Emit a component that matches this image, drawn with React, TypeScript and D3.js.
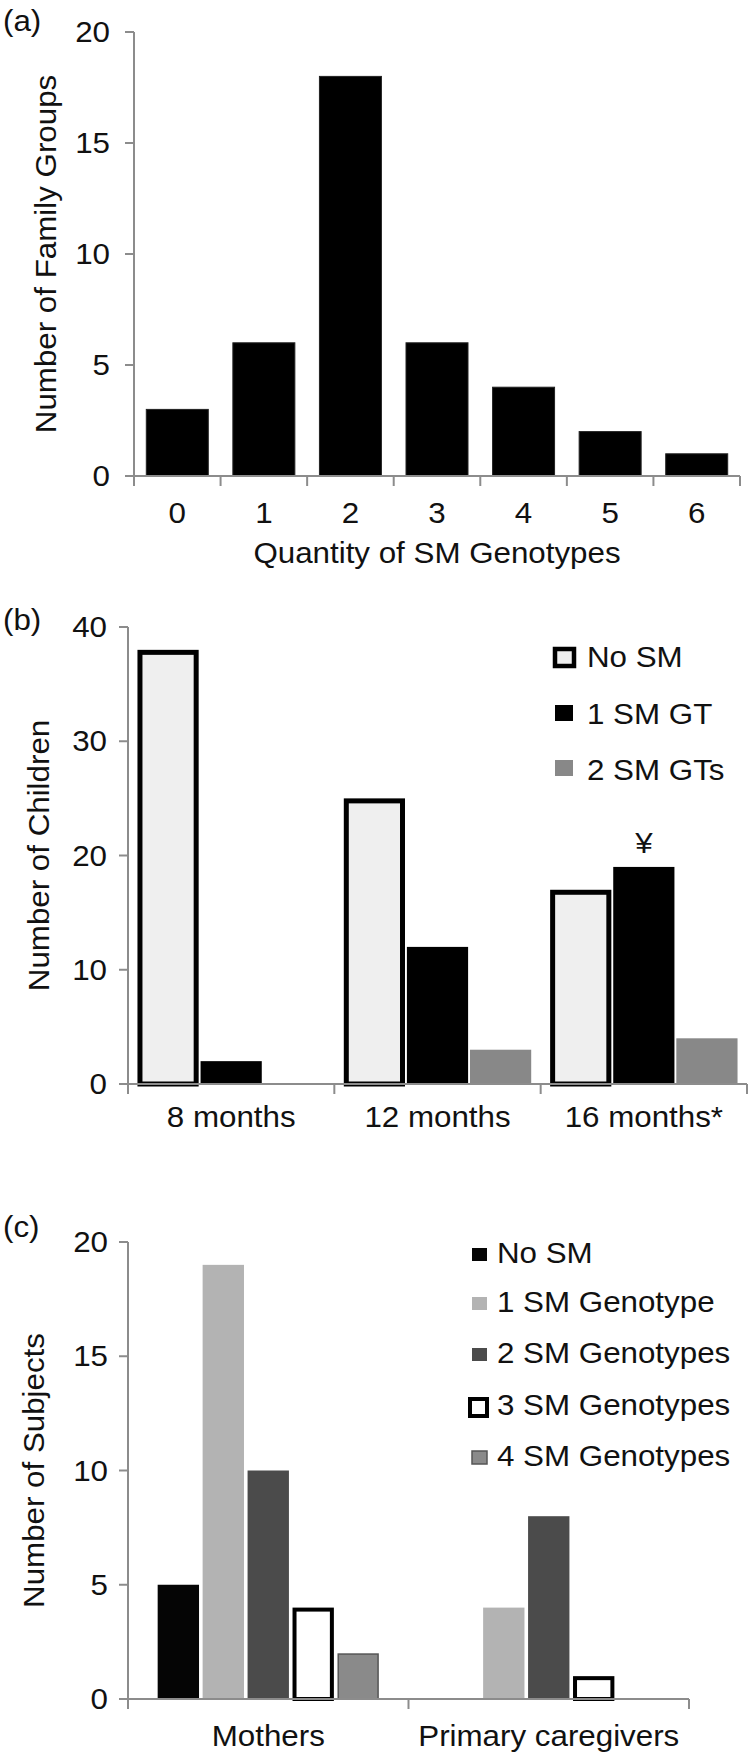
import React from 'react';
import * as d3 from 'd3';

// Panel (a)
const catsA = ['0', '1', '2', '3', '4', '5', '6'];
const valsA = [3, 6, 18, 6, 4, 2, 1];
const ticksA = [0, 5, 10, 15, 20];

// Panel (b)
const groupsB = ['8 months', '12 months', '16 months*'];
const seriesB = ['No SM', '1 SM GT', '2 SM GTs'];
const noSmB = [38, 25, 17];
const oneGtB = [2, 12, 19];
const twoGtB = [0, 3, 4];
const ticksB = [0, 10, 20, 30, 40];

// Panel (c)
const groupsC = ['Mothers', 'Primary caregivers'];
const seriesC = ['No SM', '1 SM Genotype', '2 SM Genotypes', '3 SM Genotypes', '4 SM Genotypes'];
const noSmC = [5, 0];
const oneC = [19, 4];
const twoC = [10, 8];
const threeC = [4, 1];
const fourC = [2, 0];
const ticksC = [0, 5, 10, 15, 20];

const FONT = "'Liberation Sans', Arial, Helvetica, sans-serif";
const AXIS = '#8c8c8c';
const SX = 1.08;

function T({ x, y, anchor = 'start', rotate = 0, size = 29, sx = SX, children }: any) {
  return (
    <text
      transform={`translate(${x},${y}) rotate(${rotate}) scale(${sx},1)`}
      textAnchor={anchor}
      fontSize={size}
      fontFamily={FONT}
      fill="#111"
    >
      {children}
    </text>
  );
}

function Bar({ x, w, y0, y1, st }: any) {
  const h = y0 - y1;
  if (h <= 0) return null;
  const sw = st.sw || 0;
  return (
    <rect
      x={x + sw / 2}
      y={y1 + sw / 2}
      width={w - sw}
      height={h - sw / 2}
      fill={st.fill}
      stroke={st.stroke || 'none'}
      strokeWidth={sw}
    />
  );
}

export default function App() {
  // ---------- Panel A ----------
  const yA = d3.scaleLinear().domain([0, 20]).range([476, 32]);
  const xA = d3.scaleBand<string>().domain(catsA).range([134, 740]).paddingInner(0.284).paddingOuter(0.142);
  const bA = d3.range(catsA.length + 1).map((i) => 134 + i * ((740 - 134) / catsA.length));

  // ---------- Panel B ----------
  const yB = d3.scaleLinear().domain([0, 40]).range([1084, 627]);
  const x0B = d3.scaleBand<string>().domain(groupsB).range([128, 747]);
  const x1B = d3.scaleBand<string>().domain(seriesB).range([0, x0B.bandwidth()]).paddingInner(0.03).paddingOuter(0.15);
  const valsB = [noSmB, oneGtB, twoGtB];
  const stB = [
    { fill: '#efefef', stroke: '#000', sw: 5 },
    { fill: '#000' },
    { fill: '#888888' },
  ];
  const bB = d3.range(groupsB.length + 1).map((i) => 128 + i * x0B.step());

  // ---------- Panel C ----------
  const yC = d3.scaleLinear().domain([0, 20]).range([1699, 1242]);
  const x0C = d3.scaleBand<string>().domain(groupsC).range([128, 689]);
  const x1C = d3.scaleBand<string>().domain(seriesC).range([0, x0C.bandwidth()]).paddingInner(0.08).paddingOuter(0.66);
  const valsC = [noSmC, oneC, twoC, threeC, fourC];
  const stC = [
    { fill: '#050505' },
    { fill: '#b3b3b3' },
    { fill: '#4b4b4b' },
    { fill: '#ffffff', stroke: '#000', sw: 4 },
    { fill: '#8a8a8a', stroke: '#555', sw: 1.5 },
  ];
  const bC = d3.range(groupsC.length + 1).map((i) => 128 + i * x0C.step());

  const yAxis = (x: number, y: any, ticks: number[]) => (
    <g>
      <line x1={x} x2={x} y1={y(ticks[ticks.length - 1])} y2={y(0)} stroke={AXIS} strokeWidth={2} />
      {ticks.map((t) => (
        <line key={t} x1={x - 9} x2={x} y1={y(t)} y2={y(t)} stroke={AXIS} strokeWidth={2} />
      ))}
    </g>
  );

  return (
    <svg
      width={750}
      height={1758}
      style={{ position: 'absolute', left: 0, top: 0, background: '#fff' }}
      xmlns="http://www.w3.org/2000/svg"
    >
      <rect x={0} y={0} width={750} height={1758} fill="#fff" />

      {/* ===== Panel A ===== */}
      <T x={3} y={31}>(a)</T>
      {valsA.map((v, i) => (
        <rect key={i} x={xA(catsA[i])} y={yA(v)} width={xA.bandwidth()} height={yA(0) - yA(v)} fill="#000" stroke="#222" strokeWidth={1} />
      ))}
      {yAxis(134, yA, ticksA)}
      <line x1={134} x2={740} y1={yA(0)} y2={yA(0)} stroke={AXIS} strokeWidth={2} />
      {bA.map((b, i) => (
        <line key={i} x1={b} x2={b} y1={yA(0)} y2={yA(0) + 10} stroke={AXIS} strokeWidth={2} />
      ))}
      {ticksA.map((t) => (
        <T key={t} x={110} y={yA(t) + 10} anchor="end">{t}</T>
      ))}
      {catsA.map((c) => (
        <T key={c} x={(xA(c) as number) + xA.bandwidth() / 2} y={523} anchor="middle">{c}</T>
      ))}
      <T x={437} y={563} anchor="middle">Quantity of SM Genotypes</T>
      <T x={56} y={(yA(0) + yA(20)) / 2} anchor="middle" rotate={-90}>Number of Family Groups</T>

      {/* ===== Panel B ===== */}
      <T x={3} y={630}>(b)</T>
      {groupsB.map((g, gi) =>
        seriesB.map((s, si) => (
          <Bar
            key={g + s}
            x={(x0B(g) as number) + (x1B(s) as number)}
            w={x1B.bandwidth()}
            y0={yB(0)}
            y1={yB(valsB[si][gi])}
            st={stB[si]}
          />
        ))
      )}
      {yAxis(128, yB, ticksB)}
      <line x1={128} x2={747} y1={yB(0)} y2={yB(0)} stroke={AXIS} strokeWidth={2} />
      {bB.map((b, i) => (
        <line key={i} x1={b} x2={b} y1={yB(0)} y2={yB(0) + 10} stroke={AXIS} strokeWidth={2} />
      ))}
      {ticksB.map((t) => (
        <T key={t} x={107} y={yB(t) + 10} anchor="end">{t}</T>
      ))}
      {groupsB.map((g) => (
        <T key={g} x={(x0B(g) as number) + x0B.bandwidth() / 2} y={1127} anchor="middle">{g}</T>
      ))}
      <T
        x={(x0B(groupsB[2]) as number) + (x1B(seriesB[1]) as number) + x1B.bandwidth() / 2}
        y={yB(oneGtB[2]) - 14}
        anchor="middle"
      >
        ¥
      </T>
      <T x={49} y={(yB(0) + yB(40)) / 2} anchor="middle" rotate={-90}>Number of Children</T>
      {/* legend B */}
      <rect x={555} y={649} width={19} height={17} fill="#efefef" stroke="#000" strokeWidth={4.5} />
      <T x={587} y={667}>{seriesB[0]}</T>
      <rect x={555} y={705} width={18} height={16} fill="#000" />
      <T x={587} y={724}>{seriesB[1]}</T>
      <rect x={555} y={760} width={18} height={16} fill="#888888" />
      <T x={587} y={780}>{seriesB[2]}</T>

      {/* ===== Panel C ===== */}
      <T x={3} y={1237}>(c)</T>
      {groupsC.map((g, gi) =>
        seriesC.map((s, si) => (
          <Bar
            key={g + s}
            x={(x0C(g) as number) + (x1C(s) as number)}
            w={x1C.bandwidth()}
            y0={yC(0)}
            y1={yC(valsC[si][gi])}
            st={stC[si]}
          />
        ))
      )}
      {yAxis(128, yC, ticksC)}
      <line x1={128} x2={689} y1={yC(0)} y2={yC(0)} stroke={AXIS} strokeWidth={2} />
      {bC.map((b, i) => (
        <line key={i} x1={b} x2={b} y1={yC(0)} y2={yC(0) + 10} stroke={AXIS} strokeWidth={2} />
      ))}
      {ticksC.map((t) => (
        <T key={t} x={108} y={yC(t) + 10} anchor="end">{t}</T>
      ))}
      {groupsC.map((g) => (
        <T key={g} x={(x0C(g) as number) + x0C.bandwidth() / 2} y={1746} anchor="middle">{g}</T>
      ))}
      <T x={44} y={(yC(0) + yC(20)) / 2} anchor="middle" rotate={-90}>Number of Subjects</T>
      {/* legend C */}
      {seriesC.map((s, i) => {
        const base = [1263, 1312, 1363, 1415, 1466][i];
        const st = stC[i];
        const big = i === 3;
        const bx = big ? 470 : 472;
        const bw = big ? 17 : 15;
        const by = big ? base - 16 : base - 15;
        const bh = big ? 17 : 13;
        return (
          <g key={s}>
            <rect x={bx} y={by} width={bw} height={bh} fill={st.fill} stroke={st.stroke || 'none'} strokeWidth={st.sw || 0} />
            <T x={497} y={base}>{s}</T>
          </g>
        );
      })}
    </svg>
  );
}
